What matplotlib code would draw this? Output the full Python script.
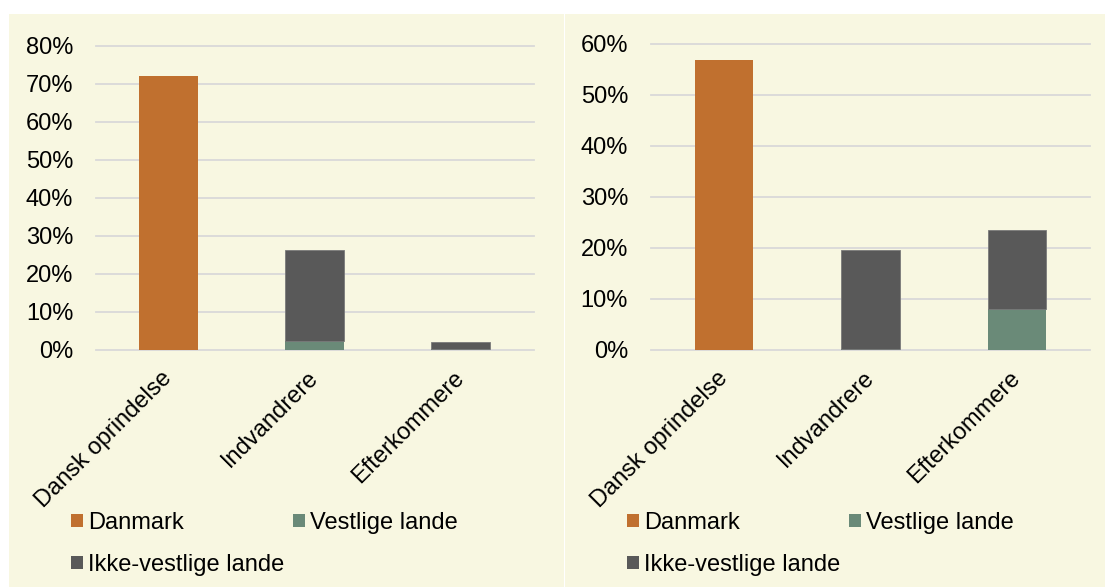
import matplotlib
matplotlib.use("Agg")
import matplotlib.pyplot as plt
from matplotlib.patches import Rectangle

plt.rcParams['font.family'] = ['Liberation Sans', 'DejaVu Sans']

categories = ['Dansk oprindelse', 'Indvandrere', 'Efterkommere']
series_names = ['Danmark', 'Vestlige lande', 'Ikke-vestlige lande']

left_danmark = [72.0, 0.0, 0.0]
left_vestlige = [0.0, 2.4, 0.1]
left_ikke = [0.0, 23.8, 1.8]

right_danmark = [56.9, 0.0, 0.0]
right_vestlige = [0.0, 0.1, 7.9]
right_ikke = [0.0, 19.5, 15.6]

left_yticks = [0, 10, 20, 30, 40, 50, 60, 70, 80]
right_yticks = [0, 10, 20, 30, 40, 50, 60]

C_DK = '#C0702F'
C_V = '#6A8A78'
C_IV = '#595959'
BG = '#F8F7E1'
GRID = '#D9D9D9'
FS = 17

W, H = 1105, 587
fig = plt.figure(figsize=(W / 100, H / 100), dpi=100, facecolor='white')

def px(x0, y0_top, x1, y1_top):
    return [x0 / W, 1 - y1_top / H, (x1 - x0) / W, (y1_top - y0_top) / H]

# panel backgrounds
for (x0, x1) in [(8.6, 564), (565, 1105)]:
    fig.patches.append(Rectangle((x0 / W, 0), (x1 - x0) / W, (587 - 14) / H,
                                 transform=fig.transFigure, facecolor=BG,
                                 edgecolor='none', zorder=-10))

def panel(rect, dk, v, iv, yticks, ymax, leg_x, colspace, ypad):
    ax = fig.add_axes(rect)
    ax.set_zorder(5)
    ax.set_facecolor('none')
    x = list(range(len(categories)))
    b1 = ax.bar(x, dk, width=0.40, color=C_DK, linewidth=0, zorder=3,
                label=series_names[0])
    b2 = ax.bar(x, v, width=0.40, bottom=dk, color=C_V, linewidth=0, zorder=3,
                label=series_names[1])
    bot = [a + b for a, b in zip(dk, v)]
    b3 = ax.bar(x, iv, width=0.40, bottom=bot, color=C_IV, edgecolor='#7A7A7A',
                linewidth=[0.6 if h > 0 else 0 for h in iv], zorder=3,
                label=series_names[2])
    ax.set_xlim(-0.5, len(categories) - 0.5)
    ax.set_ylim(0, ymax)
    ax.set_yticks(yticks)
    ax.set_yticklabels([f'{t}%' for t in yticks])
    ax.yaxis.grid(True, color=GRID, linewidth=1.3, zorder=0)
    ax.set_axisbelow(True)
    for ln in ax.get_ygridlines():
        ln.set_clip_on(False)
    for s in ax.spines.values():
        s.set_visible(False)
    ax.tick_params(axis='both', length=0, labelsize=FS, colors='black')
    ax.tick_params(axis='y', pad=ypad)
    ax.set_xticks(x)
    ax.set_xticklabels(categories, rotation=45, ha='right', va='center',
                       rotation_mode='anchor')
    ax.tick_params(axis='x', pad=18)
    ax.legend([b1, b3, b2], [series_names[0], series_names[2], series_names[1]],
              ncol=2, loc='upper left', bbox_to_anchor=(leg_x / W, 1 - 512 / H),
              bbox_transform=fig.transFigure, frameon=False, fontsize=FS,
              borderpad=0, borderaxespad=0, handlelength=0.51, handleheight=0.51,
              handletextpad=0.22, columnspacing=colspace, labelspacing=0.85)
    return ax

panel(px(95.5, 45.7, 533.5, 349.7), left_danmark, left_vestlige, left_ikke,
      left_yticks, 80, 71, 0.37, 16)
panel(px(651, 44, 1090, 349.7), right_danmark, right_vestlige, right_ikke,
      right_yticks, 60, 627, 0.37, 16.5)

fig.savefig('out.png', dpi=100, facecolor='white')
